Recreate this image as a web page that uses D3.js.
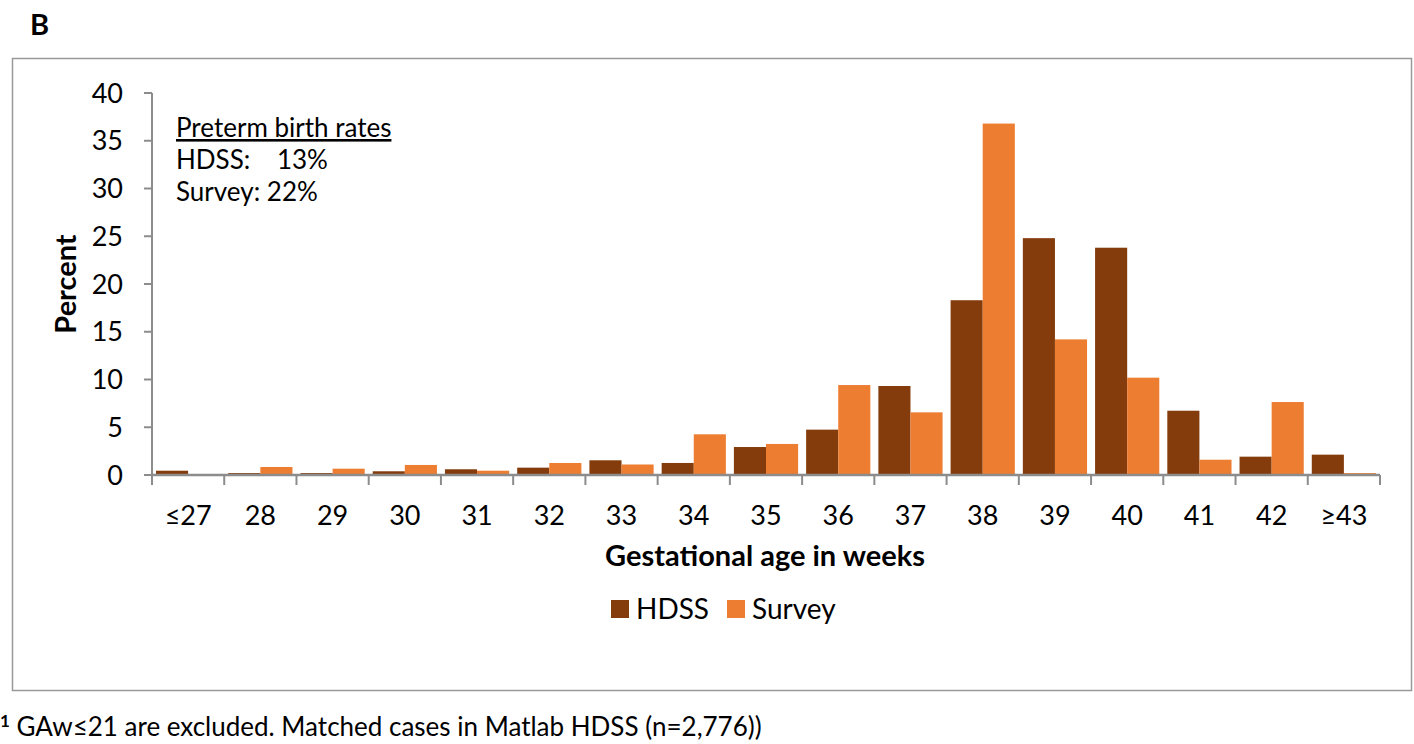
<!DOCTYPE html>
<html><head><meta charset="utf-8">
<script src="https://cdn.jsdelivr.net/npm/d3@7"></script>
<style>body{margin:0;background:#fff}svg{display:block}text{font-family:Lato,"Open Sans",sans-serif;fill:#000}</style>
</head><body><svg id="c" width="1414" height="744"></svg>
<script>
const categories = ["≤27","28","29","30","31","32","33","34","35","36","37","38","39","40","41","42","≥43"];
const seriesNames = ["HDSS","Survey"];
const hdss   = [0.45,0.2,0.2,0.39,0.6,0.77,1.54,1.26,2.93,4.75,9.32,18.3,24.8,23.8,6.73,1.92,2.13];
const survey = [0,0.84,0.66,1.05,0.45,1.26,1.1,4.26,3.25,9.42,6.56,36.8,14.2,10.19,1.6,7.64,0.2];
const yTicks = [0,5,10,15,20,25,30,35,40];
const colors = ["#843C0C","#ED7D31"];
const noteLines = ["Preterm birth rates","HDSS:    13%","Survey: 22%"];

const svg = d3.select("#c");
const axisCol = "#8c8c8c";

// frame
svg.append("rect").attr("x",12.5).attr("y",58.5).attr("width",1399).attr("height",632)
  .attr("fill","none").attr("stroke","#999").attr("stroke-width",1.5);
svg.append("text").attr("x",30).attr("y",35).attr("font-size",29).attr("font-weight","bold").text("B");

const x = d3.scaleBand().domain(categories).range([152,1380]).paddingInner(0).paddingOuter(0);
const xs = d3.scaleBand().domain(seriesNames).range([0,x.bandwidth()]).paddingInner(0).paddingOuter(0.125);
const y = d3.scaleLinear().domain([0,40]).range([475,93]);

const data = categories.map((c,i)=>({c, vals:[hdss[i],survey[i]]}));
const g = svg.append("g");
data.forEach(d=>{
  seriesNames.forEach((s,j)=>{
    const v = d.vals[j];
    if (v<=0) return;
    g.append("rect").attr("x",x(d.c)+xs(s)).attr("width",xs.bandwidth())
      .attr("y",y(v)).attr("height",y(0)-y(v)).attr("fill",colors[j]);
  });
});

// y axis
const ya = svg.append("g");
ya.append("line").attr("x1",152).attr("x2",152).attr("y1",y(40)).attr("y2",y(0)).attr("stroke",axisCol).attr("stroke-width",2);
yTicks.forEach(t=>{
  ya.append("line").attr("x1",144).attr("x2",152).attr("y1",y(t)).attr("y2",y(t)).attr("stroke",axisCol).attr("stroke-width",2);
  ya.append("text").attr("x",123).attr("y",y(t)).attr("dy","0.36em").attr("text-anchor","end").attr("font-size",27).text(t);
});
// x axis
const xa = svg.append("g");
xa.append("line").attr("x1",152).attr("x2",1380).attr("y1",y(0)).attr("y2",y(0)).attr("stroke",axisCol).attr("stroke-width",2.5);
const edges = categories.map(c=>x(c)).concat([x.range()[1]]);
edges.forEach(e=>{
  xa.append("line").attr("x1",e).attr("x2",e).attr("y1",y(0)).attr("y2",y(0)+10).attr("stroke",axisCol).attr("stroke-width",2);
});
categories.forEach(c=>{
  xa.append("text").attr("x",x(c)+x.bandwidth()/2).attr("y",525).attr("text-anchor","middle").attr("font-size",27).text(c);
});

svg.append("text").attr("x",765).attr("y",566).attr("text-anchor","middle").attr("font-size",29).attr("font-weight","bold").text("Gestational age in weeks");
svg.append("text").attr("transform","translate(76,284) rotate(-90)").attr("text-anchor","middle").attr("font-size",29).attr("font-weight","bold").text("Percent");

// annotation
noteLines.forEach((l,i)=>{
  const t = svg.append("text").attr("x",176).attr("y",137+i*32).attr("font-size",26).style("white-space","pre").attr("xml:space","preserve").text(l);
  if(i===0) t.attr("text-decoration","underline");
});

// legend
const lg = svg.append("g");
const legX = [611,727];
seriesNames.forEach((s,j)=>{
  lg.append("rect").attr("x",legX[j]).attr("y",600).attr("width",18).attr("height",18).attr("fill",colors[j]);
  lg.append("text").attr("x",legX[j]+25).attr("y",609).attr("dy","0.36em").attr("font-size",28).text(s);
});

// footer
const ft = svg.append("text").attr("x",0).attr("y",736).attr("font-size",26);
ft.append("tspan").attr("font-weight","bold").attr("font-size",17).attr("dy",-9).text("1");
ft.append("tspan").attr("dy",9).text(" GAw≤21 are excluded. Matched cases in Matlab HDSS (n=2,776))");
</script></body></html>
